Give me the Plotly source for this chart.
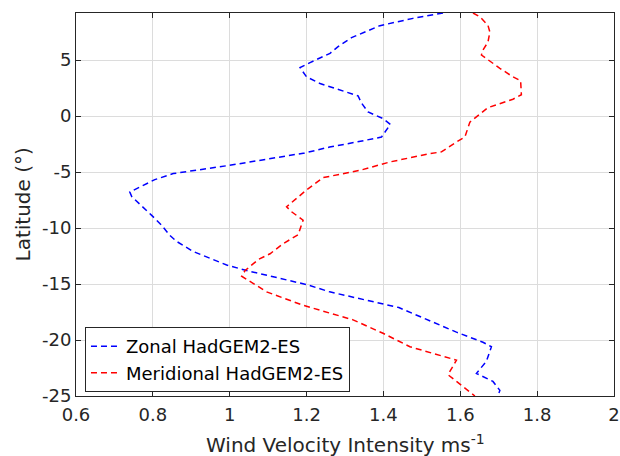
import plotly.graph_objects as go

# Zonal HadGEM2-ES (latitude, wind intensity)
zonal_lat = [9.2, 8.72, 8.07, 7.0, 6.2, 5.6, 4.77, 4.32, 3.5, 2.9, 1.8, 1.16, 0.36, -0.23, -0.74,
             -1.88, -2.32, -2.77, -3.3, -3.66, -4.4, -5.14, -5.68, -6.79, -7.2, -8.87, -9.76,
             -10.65, -11.2, -12.1, -12.8, -13.3, -13.8, -15.05, -15.7, -16.75, -17.1, -19.3,
             -20.2, -20.6, -21.9, -22.98, -23.7, -24.5, -25.0]
zonal_val = [1.555, 1.477, 1.391, 1.317, 1.282, 1.261, 1.209, 1.183, 1.200, 1.235, 1.334, 1.343,
             1.360, 1.399, 1.418, 1.395, 1.330, 1.260, 1.195, 1.131, 1.000, 0.853, 0.805, 0.740,
             0.745, 0.797, 0.823, 0.844, 0.862, 0.905, 0.957, 0.992, 1.044, 1.200, 1.260, 1.400,
             1.440, 1.590, 1.659, 1.681, 1.668, 1.642, 1.685, 1.703, 1.698]

# Meridional HadGEM2-ES
merid_lat = [9.2, 8.87, 8.1, 7.5, 6.6, 5.9, 5.45, 5.0, 4.26, 3.5, 3.15, 1.9, 1.5, 0.75, -0.54,
             -1.88, -2.32, -3.2, -3.36, -4.1, -4.85, -5.5, -6.6, -8.1, -8.55, -9.3, -10.6,
             -11.4, -12.3, -12.8, -13.8, -14.3, -15.7, -16.9, -18.2, -19.4, -20.6, -21.8,
             -23.1, -25.0]
merid_val = [1.633, 1.651, 1.672, 1.677, 1.672, 1.659, 1.655, 1.672, 1.703, 1.737, 1.757, 1.759,
             1.737, 1.672, 1.625, 1.612, 1.590, 1.551, 1.521, 1.417, 1.339, 1.243, 1.200, 1.148,
             1.161, 1.191, 1.178, 1.139, 1.105, 1.075, 1.040, 1.031, 1.096, 1.191, 1.321, 1.399,
             1.469, 1.590, 1.568, 1.638]

x_ticks = [0.6, 0.8, 1.0, 1.2, 1.4, 1.6, 1.8, 2.0]
x_tick_labels = ["0.6", "0.8", "1", "1.2", "1.4", "1.6", "1.8", "2"]
y_ticks = [-25, -20, -15, -10, -5, 0, 5]
y_tick_labels = ["-25", "-20", "-15", "-10", "-5", "0", "5"]

FONT = "DejaVu Sans"
AX = "#262626"

fig = go.Figure()
fig.add_trace(go.Scatter(x=zonal_val, y=zonal_lat, mode="lines", name="Zonal HadGEM2-ES",
                         line=dict(color="#0000ff", width=1.5, dash="6px,4px")))
fig.add_trace(go.Scatter(x=merid_val, y=merid_lat, mode="lines", name="Meridional HadGEM2-ES",
                         line=dict(color="#ff0000", width=1.5, dash="6px,4px")))

fig.update_layout(
    width=620, height=456,
    margin=dict(l=76, r=6, t=13, b=60, autoexpand=False),
    paper_bgcolor="white", plot_bgcolor="white",
    font=dict(family=FONT, size=18, color=AX),
    hovermode=False,
    showlegend=True,
    legend=dict(x=0.0167, y=0.095, xanchor="left", yanchor="middle",
                bgcolor="white", bordercolor=AX, borderwidth=1,
                font=dict(family=FONT, size=18, color="#000000"),
                itemwidth=30, tracegroupgap=0),
    annotations=[
        dict(text="Wind Velocity Intensity ms<sup>-1</sup>", xref="paper", yref="paper",
             x=0.5, y=0, xanchor="center", yanchor="top", yshift=-33, showarrow=False,
             font=dict(family=FONT, size=20, color=AX)),
        dict(text="Latitude (°)", xref="paper", yref="paper", textangle=-90,
             x=0, y=0.5, xanchor="right", yanchor="middle", xshift=-40, showarrow=False,
             font=dict(family=FONT, size=20, color=AX)),
    ],
)
fig.update_xaxes(
    range=[0.6, 2.0], tickvals=x_ticks, ticktext=x_tick_labels, automargin=False,
    showline=True, linecolor=AX, linewidth=1, mirror="allticks",
    ticks="inside", ticklen=5, tickcolor=AX, ticklabelstandoff=2,
    showgrid=True, gridcolor="#dcdcdc", gridwidth=1, zeroline=False,
    tickfont=dict(family=FONT, size=18, color=AX),
)
fig.update_yaxes(
    range=[-25, 9.2], tickvals=y_ticks, ticktext=y_tick_labels, automargin=False,
    showline=True, linecolor=AX, linewidth=1, mirror="allticks",
    ticks="inside", ticklen=5, tickcolor=AX,
    showgrid=True, gridcolor="#dcdcdc", gridwidth=1, zeroline=False,
    tickfont=dict(family=FONT, size=18, color=AX),
)

# remove the browser's default 8px body margin so the 620x456 figure fills the window
fig.write_html("out.html",
               config={"displayModeBar": False, "staticPlot": True},
               post_script="document.body.style.margin='0';document.body.style.overflow='hidden';")
